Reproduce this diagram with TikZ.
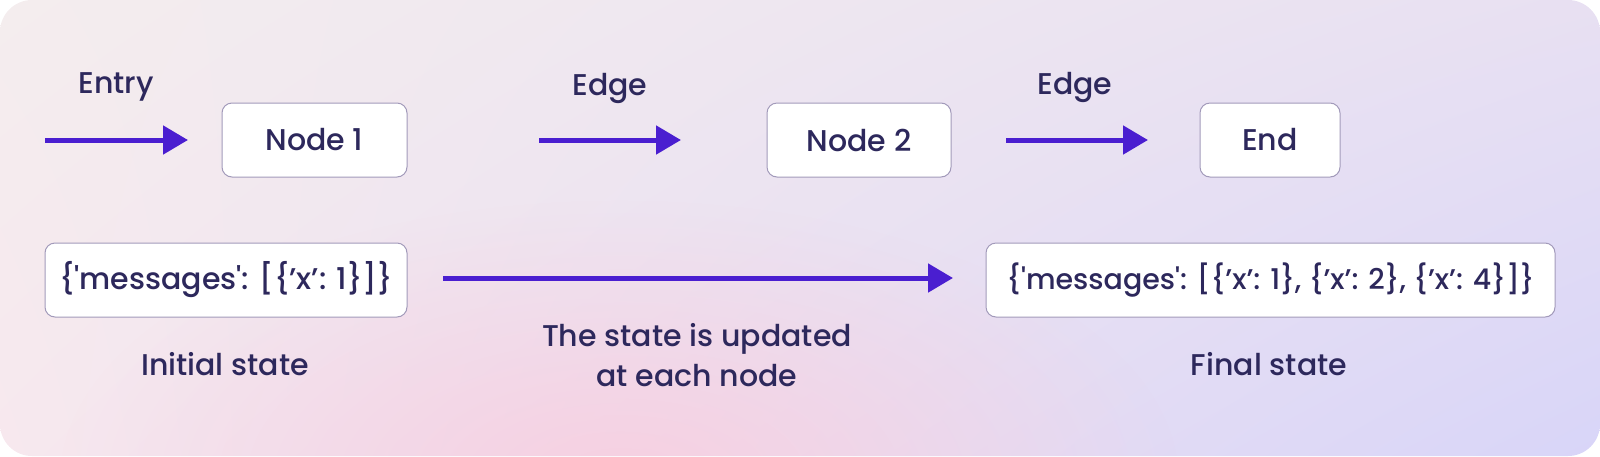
\documentclass[tikz,border=0pt]{standalone}
\usepackage{fontspec}
\setmainfont{Poppins Medium}
\usetikzlibrary{arrows.meta}
\usetikzlibrary{fadings}
\usetikzlibrary{shadings}

\definecolor{ink}{RGB}{45,40,92}
\definecolor{flow}{RGB}{74,30,208}
\definecolor{boxline}{RGB}{162,154,186}
\definecolor{bgUL}{RGB}{244,237,238}
\definecolor{bgUR}{RGB}{232,224,242}
\definecolor{bgLL}{RGB}{247,232,238}
\definecolor{bgLR}{RGB}{216,213,248}
\definecolor{glow}{RGB}{247,208,225}

\tikzfading[name=glowfade, inner color=transparent!0, outer color=transparent!100]

\begin{document}
\begin{tikzpicture}[x=1pt,y=-1pt,>={Triangle[length=25pt,width=28pt]},
    box/.style={draw=boxline,line width=1pt,fill=white,rounded corners=10pt,
                minimum height=74pt,inner sep=0pt,text=ink,font=\fontsize{30}{36}\selectfont},
    lbl/.style={text=ink,font=\fontsize{30}{40}\selectfont,inner sep=0pt},
    flowarrow/.style={->,draw=flow,line width=5pt}]
                \useasboundingbox (0,0) rectangle (1600,456);
                % background
                \shade[rounded corners=32pt,upper left=bgUL,upper right=bgUR,
                       lower left=bgLL,lower right=bgLR] (0,0) rectangle (1600,456);
                \begin{scope}
                    \clip[rounded corners=32pt] (0,0) rectangle (1600,456);
                    \fill[glow,path fading=glowfade] (620,480) ellipse [x radius=560,y radius=280];
                \end{scope}
                % top row
                \node[lbl] (entry) at (116,87) {Entry};
                \coordinate (entryA) at (45,140);
                \coordinate (entryB) at (188,140);
                \node[box,minimum width=185pt] (node1) at (314.5,140) {Node 1};
                \node[lbl] (edge1) at (610,88) {Edge};
                \coordinate (edge1A) at (539,140);
                \coordinate (edge1B) at (681,140);
                \node[box,minimum width=184pt] (node2) at (859,140) {Node 2};
                \node[lbl] (edge2) at (1075,87) {Edge};
                \coordinate (edge2A) at (1006,140);
                \coordinate (edge2B) at (1148,140);
                \node[box,minimum width=140pt] (end) at (1270,140) {End};
                \draw[flowarrow] (entryA) -- (entryB);
                \draw[flowarrow] (edge1A) -- (edge1B);
                \draw[flowarrow] (edge2A) -- (edge2B);
                % bottom row
                \node[box,minimum width=362pt] (init) at (226,280)
                    {\{\textquotesingle messages\textquotesingle: [\{’x’: 1\}]\}};
                \node[box,minimum width=569pt,font=\fontsize{28.5}{36}\selectfont] (final) at (1270.5,280)
                    {\{\textquotesingle messages\textquotesingle: [\{’x’: 1\}, \{’x’: 2\}, \{’x’: 4\}]\}};
                \coordinate (stateA) at (443,278);
                \coordinate (stateB) at (953,278);
                \draw[flowarrow] (stateA) -- (stateB);
                \node[lbl] (initlbl) at (225,364) {Initial state};
                \node[lbl,align=center] (statelbl) at (697,355) {The state is updated\\at each node};
                \node[lbl] (finallbl) at (1269,364) {Final state};
\end{tikzpicture}
\end{document}
